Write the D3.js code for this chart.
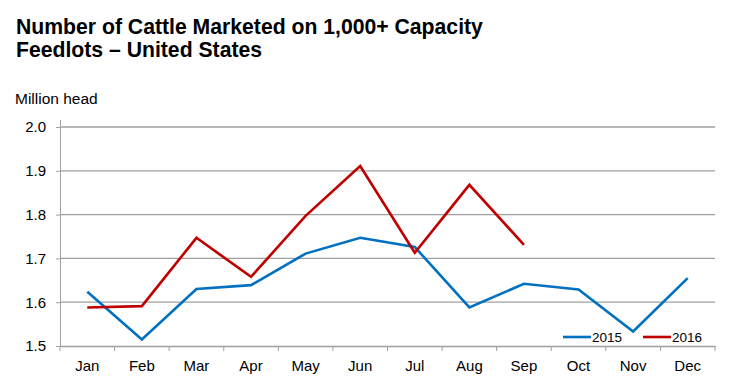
<!DOCTYPE html>
<html><head><meta charset="utf-8">
<script src="https://cdn.jsdelivr.net/npm/d3@7"></script>
<style>body{margin:0;background:#fff;}svg{display:block;font-family:Arial,"Liberation Sans",sans-serif;}</style>
</head><body><svg id="c" width="737" height="391"></svg>
<script>
const months = ["Jan","Feb","Mar","Apr","May","Jun","Jul","Aug","Sep","Oct","Nov","Dec"];
const values2015 = [1.624,1.515,1.630,1.639,1.711,1.747,1.726,1.588,1.642,1.629,1.533,1.655];
const values2016 = [1.588,1.591,1.747,1.658,1.797,1.911,1.713,1.868,1.731];
const yTicks = [1.5,1.6,1.7,1.8,1.9,2.0];
const seriesNames = ["2015","2016"];
const colors = ["#0070C0","#C00000"];

const svg = d3.select("#c");
const L=60,R=715,T=127,B=346;
const x = d3.scaleBand().domain(months).range([L,R]);
const y = d3.scaleLinear().domain([1.5,2.0]).range([B,T]);
const FF = "Arial,'Liberation Sans',sans-serif";

svg.append("text").attr("x",16).attr("y",34).attr("font-size",21.2).attr("font-weight","bold").text("Number of Cattle Marketed on 1,000+ Capacity");
svg.append("text").attr("x",16).attr("y",57).attr("font-size",21.2).attr("font-weight","bold").text("Feedlots \u2013 United States");
svg.append("text").attr("x",15).attr("y",104).attr("font-size",15.5).text("Million head");

// grid
svg.append("g").selectAll("line").data(yTicks.filter(d=>d>1.5)).join("line")
  .attr("x1",L).attr("x2",R).attr("y1",d=>y(d)).attr("y2",d=>y(d))
  .attr("stroke","#a0a0a0").attr("stroke-width",1.3);

const ya = svg.append("g").attr("transform",`translate(${L},0)`)
  .call(d3.axisLeft(y).tickValues(yTicks).tickFormat(d3.format(".1f")).tickSize(4).tickPadding(10));
ya.select(".domain").attr("stroke","#a0a0a0");
ya.selectAll(".tick line").attr("stroke","#a0a0a0");
ya.selectAll("text").attr("font-size",15).attr("fill","#000").attr("font-family",FF);
svg.append("line").attr("x1",L+0.5).attr("x2",L+0.5).attr("y1",T-7).attr("y2",B).attr("stroke","#a0a0a0");

const xa = svg.append("g").attr("transform",`translate(0,${B})`)
  .call(d3.axisBottom(x).tickSize(0).tickPadding(14));
xa.select(".domain").attr("stroke","#a0a0a0").attr("stroke-width",1.3);
xa.selectAll("text").attr("font-size",15).attr("fill","#000").attr("font-family",FF);
svg.append("g").selectAll("line").data(months.map(m=>x(m)).concat([R])).join("line")
  .attr("x1",d=>d).attr("x2",d=>d).attr("y1",B).attr("y2",B+5).attr("stroke","#a0a0a0");

const line = d3.line().x((d,i)=>x(months[i])+x.bandwidth()/2).y(d=>y(d));
[values2015,values2016].forEach((vals,i)=>{
  svg.append("path").attr("d",line(vals)).attr("fill","none").attr("stroke",colors[i]).attr("stroke-width",2.6).attr("stroke-linejoin","miter");
});

// legend
const lg = [{x:563},{x:643}];
seriesNames.forEach((n,i)=>{
  svg.append("line").attr("x1",lg[i].x).attr("x2",lg[i].x+28).attr("y1",337).attr("y2",337).attr("stroke",colors[i]).attr("stroke-width",2.6);
  svg.append("text").attr("x",lg[i].x+29).attr("y",342).attr("font-size",13.5).text(n);
});
</script></body></html>
